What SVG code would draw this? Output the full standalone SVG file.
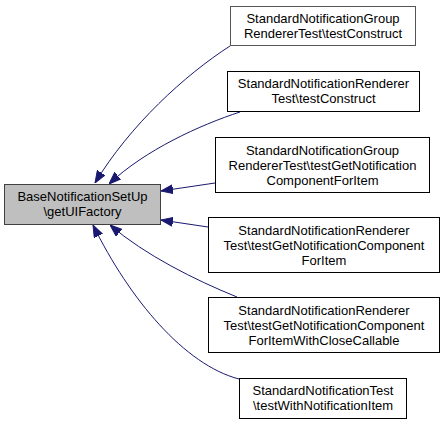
<svg xmlns="http://www.w3.org/2000/svg" width="441" height="424" viewBox="0 0 441 424">
<defs>
<style>
.n rect{fill:#ffffff;stroke:#000000;stroke-width:1}
.n.g rect{stroke:#555555}
.n.m rect{fill:#bfbfbf;stroke:#404040}
.n text{font-family:"Liberation Sans",Arial,sans-serif;font-size:13px;fill:#000000;text-anchor:middle}
.e path{fill:none;stroke:#191970;stroke-width:1;marker-end:url(#ah)}
</style>
<marker id="ah" viewBox="0 0 12 10" refX="12" refY="5" markerWidth="12" markerHeight="10" markerUnits="userSpaceOnUse" orient="auto">
<polygon points="0,0.5 12,5 0,9.5" fill="#191970" stroke="#191970" stroke-width="1"/>
</marker>
</defs>
<rect width="441" height="424" fill="#ffffff"/>
<g id="edges" class="e">
<path d="M230,46 C185,75 130,125 95,183"/>
<path d="M240,112 C200,125 145,150 109,184"/>
<path d="M215,183 L161,191"/>
<path d="M208,227 L161,220"/>
<path d="M237,297 C195,280 145,255 110,225"/>
<path d="M239,379 C185,365 130,300 93,225"/>
</g>
<g id="node0" class="n m">
<rect x="4.5" y="184.5" width="156" height="40"/>
<text x="82.5" y="201">BaseNotificationSetUp</text>
<text x="82.5" y="216">\getUIFactory</text>
</g>
<g id="node1" class="n g">
<rect x="230.5" y="6.5" width="185" height="39"/>
<text x="323" y="23">StandardNotificationGroup</text>
<text x="323" y="38">RendererTest\testConstruct</text>
</g>
<g id="node2" class="n">
<rect x="227.5" y="71.5" width="192" height="40"/>
<text x="323.5" y="88">StandardNotificationRenderer</text>
<text x="323.5" y="103">Test\testConstruct</text>
</g>
<g id="node3" class="n">
<rect x="215.5" y="137.5" width="214" height="55"/>
<text x="322.5" y="155">StandardNotificationGroup</text>
<text x="322.5" y="170">RendererTest\testGetNotification</text>
<text x="322.5" y="185">ComponentForItem</text>
</g>
<g id="node4" class="n">
<rect x="208.5" y="217.5" width="231" height="55"/>
<text x="324" y="235">StandardNotificationRenderer</text>
<text x="324" y="250">Test\testGetNotificationComponent</text>
<text x="324" y="265">ForItem</text>
</g>
<g id="node5" class="n">
<rect x="208.5" y="297.5" width="231" height="55"/>
<text x="324" y="315">StandardNotificationRenderer</text>
<text x="324" y="330">Test\testGetNotificationComponent</text>
<text x="324" y="345">ForItemWithCloseCallable</text>
</g>
<g id="node6" class="n">
<rect x="239.5" y="378.5" width="167" height="40"/>
<text x="323" y="395">StandardNotificationTest</text>
<text x="323" y="410">\testWithNotificationItem</text>
</g>
</svg>
